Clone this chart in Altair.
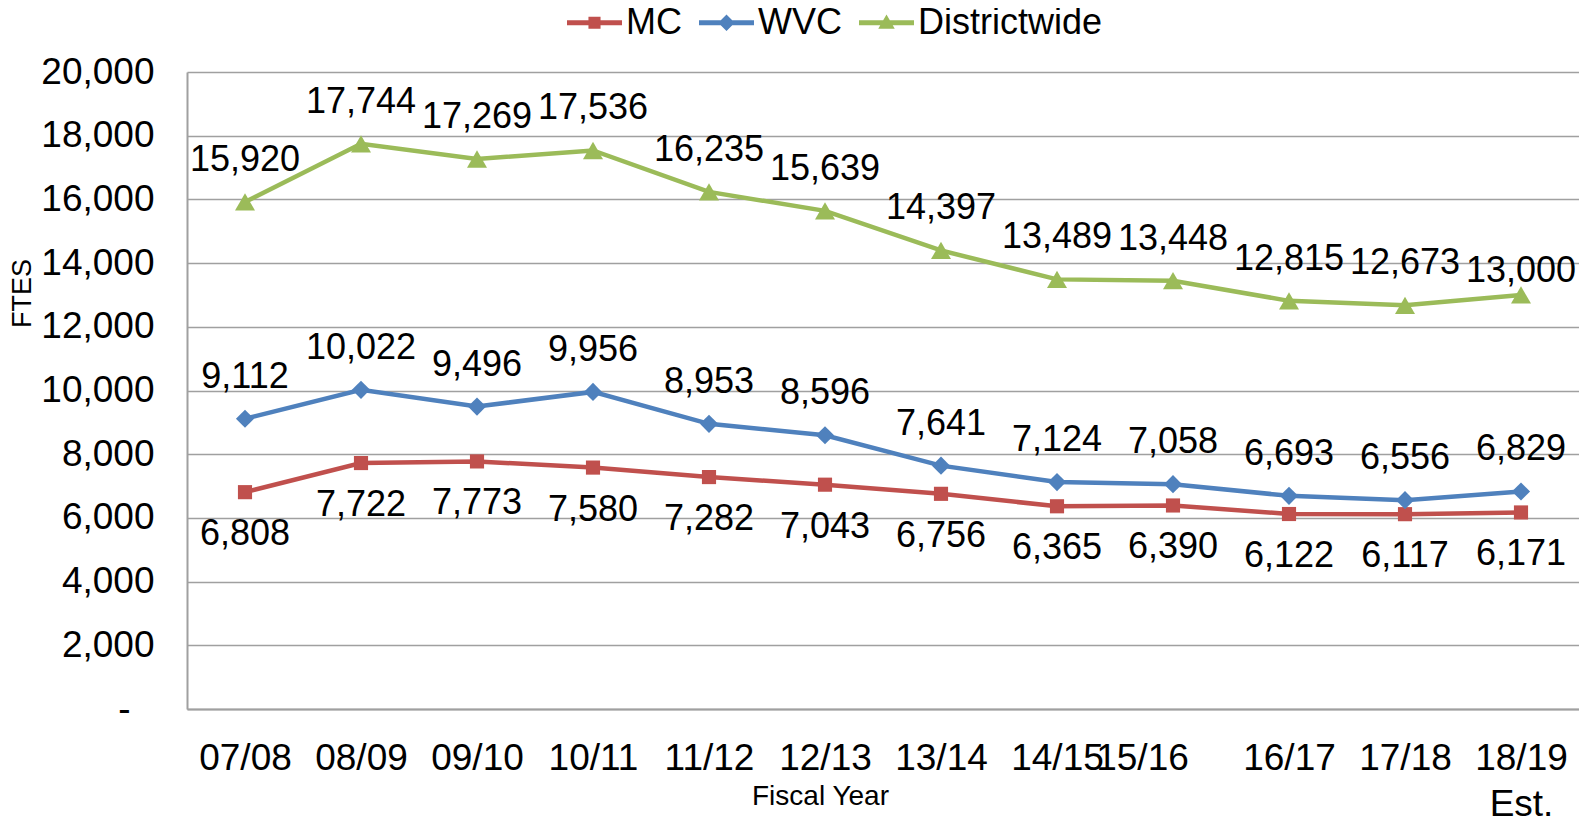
import altair as alt
import pandas as pd

years = ["07/08", "08/09", "09/10", "10/11", "11/12", "12/13", "13/14",
         "14/15", "15/16", "16/17", "17/18", "18/19|Est."]
mc = [6808, 7722, 7773, 7580, 7282, 7043, 6756, 6365, 6390, 6122, 6117, 6171]
wvc = [9112, 10022, 9496, 9956, 8953, 8596, 7641, 7124, 7058, 6693, 6556, 6829]
dist = [15920, 17744, 17269, 17536, 16235, 15639, 14397, 13489, 13448, 12815, 12673, 13000]
series = ["MC", "WVC", "Districtwide"]
colors = ["#C0504D", "#4F81BD", "#9BBB59"]
y_ticks = list(range(0, 20001, 2000))

rows = []
for s, vals in zip(series, [mc, wvc, dist]):
    for yr, v in zip(years, vals):
        rows.append({"Year": yr, "Series": s, "FTES": v})
df = pd.DataFrame(rows)

FONT = "Liberation Sans"
GRID = "#A0A0A0"

# legend symbols: line with marker in the middle
bar = "M-1,-0.09L1,-0.09L1,0.09L-1,0.09Z"
leg_paths = [
    bar + "M-0.22,-0.22L0.22,-0.22L0.22,0.22L-0.22,0.22Z",
    bar + "M0,-0.3L0.3,0L0,0.3L-0.3,0Z",
    bar + "M0,-0.3L0.3,0.22L-0.3,0.22Z",
]

color_scale = alt.Scale(domain=series, range=colors)

x_enc = alt.X(
    "Year:N", sort=years,
    scale=alt.Scale(type="point", padding=0.5),
    axis=alt.Axis(
        title="Fiscal Year", labelAngle=0, labelPadding=31, ticks=False, tickSize=0,
        grid=False, domainColor=GRID, domainWidth=2,
        labelExpr="split(datum.label, '|')", labelLineHeight=46,
        labelOffset={"condition": {"test": "datum.value == '15/16'", "value": -31}, "value": 0},
        titleFontSize=28, titleX=633, titleY=87, titleBaseline="middle",
    ),
)
y_enc = alt.Y(
    "FTES:Q",
    scale=alt.Scale(domain=[0, 20000], nice=False),
    axis=alt.Axis(
        values=y_ticks, title="FTES",
        labelExpr="datum.value == 0 ? '-' : format(datum.value, ',')",
        labelPadding={"condition": {"test": "datum.value == 0", "value": 57}, "value": 33},
        ticks=False, tickSize=0,
        gridColor=GRID, gridWidth=1.5, domainColor=GRID, domainWidth=2,
        titleFontSize=27, titleAngle=270, titleX=-165, titleY=221,
        titleAlign="center", titleBaseline="middle",
    ),
)

base = alt.Chart(df).encode(
    x=x_enc, y=y_enc,
    color=alt.Color("Series:N", scale=color_scale, legend=None),
)

lines = base.mark_line(strokeWidth=4.5)

shapes = [("MC", "square", 200), ("WVC", "diamond", 330), ("Districtwide", "triangle-up", 400)]
pts = [
    base.transform_filter(alt.datum.Series == s).mark_point(shape=shp, filled=True, size=sz, opacity=1)
    for s, shp, sz in shapes
]

last = years[-1]
txt_kw = dict(fontSize=36, font=FONT)
t_dist = base.transform_filter(
    (alt.datum.Series == "Districtwide") & (alt.datum.Year != last)
).mark_text(dy=-42, **txt_kw).encode(text=alt.Text("FTES:Q", format=","), color=alt.value("black"))
t_dist_last = base.transform_filter(
    (alt.datum.Series == "Districtwide") & (alt.datum.Year == last)
).mark_text(dy=-24, **txt_kw).encode(text=alt.Text("FTES:Q", format=","), color=alt.value("black"))
t_wvc = base.transform_filter(alt.datum.Series == "WVC").mark_text(dy=-42, **txt_kw).encode(
    text=alt.Text("FTES:Q", format=","), color=alt.value("black"))
t_mc = base.transform_filter(alt.datum.Series == "MC").mark_text(dy=42, **txt_kw).encode(
    text=alt.Text("FTES:Q", format=","), color=alt.value("black"))

leg_opts = dict(
    orient="none", legendX=380, legendY=-77, direction="horizontal", title=None,
    labelFontSize=36, labelFont=FONT, labelColor="black", labelOffset=4, labelLimit=400,
    columnPadding=17, symbolSize=3025, symbolStrokeWidth=0, padding=0, rowPadding=0,
)
legend_layer = alt.Chart(df).transform_filter("false").mark_point(filled=True, opacity=1).encode(
    color=alt.Color("Series:N", scale=alt.Scale(domain=series, range=colors),
                    legend=alt.Legend(**leg_opts)),
    shape=alt.Shape("Series:N", scale=alt.Scale(domain=series, range=leg_paths),
                    legend=alt.Legend(**leg_opts)),
)

chart = alt.layer(lines, *pts, t_dist, t_dist_last, t_wvc, t_mc, legend_layer).resolve_scale(
    color="independent", shape="independent"
).properties(
    width=1392, height=637,
    padding={"left": 179, "top": 64, "right": 0, "bottom": 110},
    autosize=alt.AutoSizeParams(type="none"),
).configure_axis(
    labelFont=FONT, titleFont=FONT, labelFontSize=37, labelColor="black",
    titleColor="black", titleFontWeight="normal",
).configure_view(stroke=None)

chart.save("out.html", embed_options={"renderer": "svg", "actions": False})
